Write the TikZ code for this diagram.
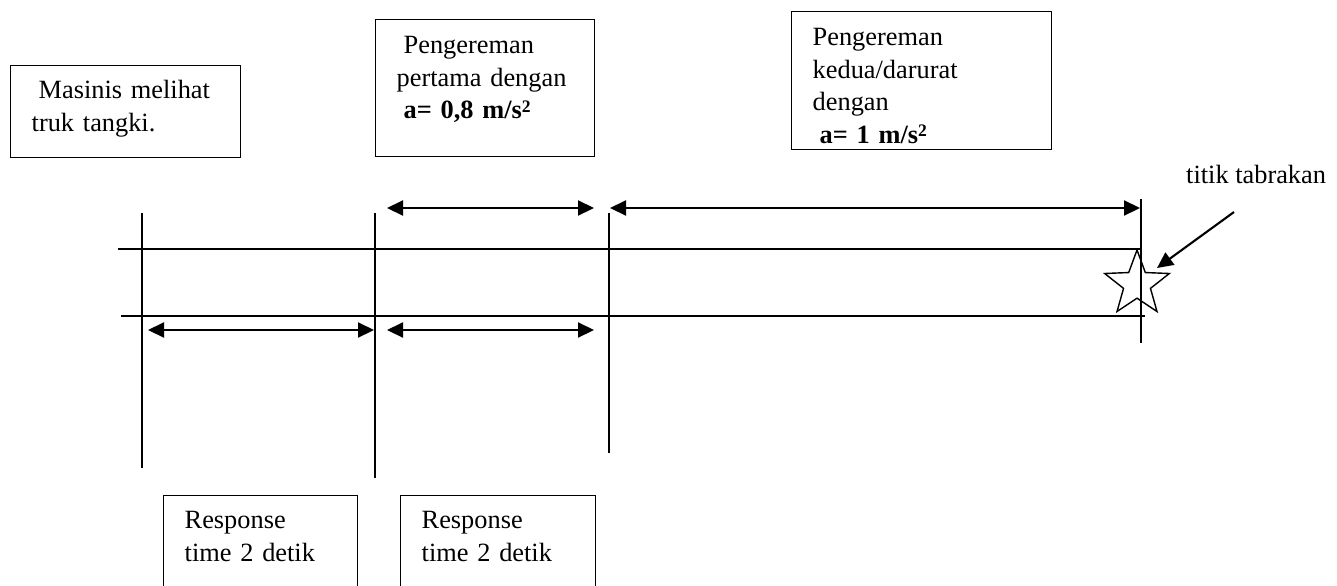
\documentclass[tikz,border=0pt]{standalone}
\usepackage{fontspec}
\setmainfont{Liberation Serif}
\usetikzlibrary{arrows.meta,shapes.geometric}

\newcommand{\pangkat}[1]{\raisebox{0.55ex}{\fontsize{10}{10}\selectfont\bfseries #1}}

\begin{document}
\begin{tikzpicture}[x=0.02cm,y=-0.02cm,
  kotak/.style={draw, line width=0.8pt, anchor=north west, align=left, inner xsep=0.42cm, inner ysep=0pt, font=\fontsize{15}{18.5}\selectfont},
  garis/.style={line width=0.6pt},
  jarak/.style={{Triangle[length=0.32cm,width=0.3cm]}-{Triangle[length=0.32cm,width=0.3cm]}, line width=1.2pt},
  tunjuk/.style={-{Triangle[length=0.32cm,width=0.3cm]}, line width=1.2pt}]
\useasboundingbox (0,0) rectangle (1337,585);

% kotak keterangan atas
\node[kotak, text width=3.76cm, text height=0.66cm, text depth=1.18cm] (melihat) at (10,65) {\hspace*{0.14cm}Masinis melihat\\truk tangki.};
\node[kotak, text width=3.54cm, text height=0.68cm, text depth=2.06cm] (rem1) at (375,19) {\hspace*{0.14cm}Pengereman\\pertama dengan\\\hspace*{0.14cm}\textbf{a= 0,8 m/s\pangkat{2}}};
\node[kotak, text width=4.36cm, text height=0.68cm, text depth=2.08cm] (rem2) at (791,11) {Pengereman\\kedua/darurat\\dengan\\\hspace*{0.14cm}\textbf{a= 1 m/s\pangkat{2}}};

% kotak keterangan bawah
\node[kotak, text width=3.04cm, text height=0.66cm, text depth=3cm] (respon1) at (163,495) {Response\\time 2 detik};
\node[kotak, text width=3.06cm, text height=0.66cm, text depth=3cm] (respon2) at (400,495) {Response\\time 2 detik};

% rel
\draw[garis] (118,249) -- (1142,249);
\draw[garis] (121,316) -- (1145,316);

% batas
\draw[garis] (142,213) -- (142,468);
\draw[garis] (375,213) -- (375,478);
\draw[garis] (609,213) -- (609,453);
\draw[garis] (1141,199) -- (1141,343);

\coordinate (a1) at (387,208);
\coordinate (a2) at (594,208);
\coordinate (a3) at (610,208);
\coordinate (a4) at (1140,208);
\coordinate (b1) at (148,330);
\coordinate (b2) at (374,330);
\coordinate (b3) at (387,330);
\coordinate (b4) at (594,330);

\draw[jarak] (a1) -- (a2);
\draw[jarak] (a3) -- (a4);
\draw[jarak] (b1) -- (b2);
\draw[jarak] (b3) -- (b4);

% titik tabrakan
\node[star, star points=5, star point ratio=2.4, draw, line width=0.8pt, minimum size=1.36cm, inner sep=0pt] (tabrakan) at (1137,284) {};
\node[anchor=base west, font=\fontsize{15}{18.5}\selectfont] (keterangan) at (1180,183) {titik tabrakan};
\coordinate (pangkal) at (1234,212);
\coordinate (kena) at (1157,268);
\draw[tunjuk] (pangkal) -- (kena);

\end{tikzpicture}
\end{document}
